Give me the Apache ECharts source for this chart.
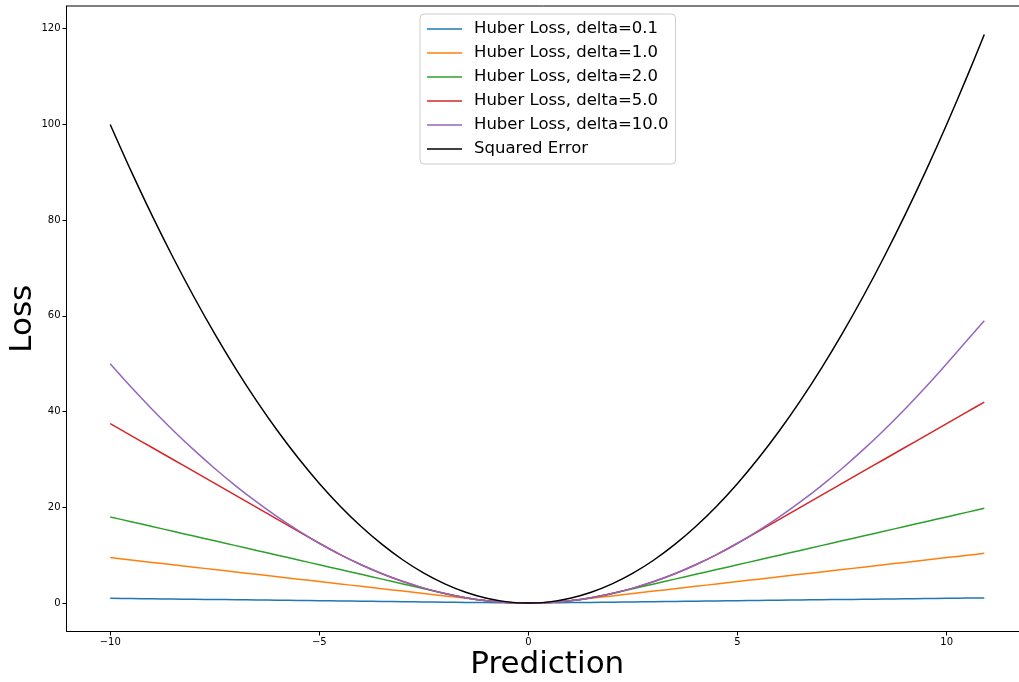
<!DOCTYPE html>
<html>
<head>
<meta charset="utf-8">
<script src="https://cdn.jsdelivr.net/npm/echarts@6/dist/echarts.min.js"></script>
<style>
html,body{margin:0;padding:0;background:#fff;}
#c{width:1019px;height:682px;}
</style>
</head>
<body>
<div id="c"></div>
<script>
const xs = [-10,-9.5,-9,-8.5,-8,-7.5,-7,-6.5,-6,-5.5,-5,-4.5,-4,-3.5,-3,-2.5,-2,-1.5,-1,-0.5,0,0.5,1,1.5,2,2.5,3,3.5,4,4.5,5,5.5,6,6.5,7,7.5,8,8.5,9,9.5,10,10.5,10.9];
const huber01 = [0.995,0.945,0.895,0.845,0.795,0.745,0.695,0.645,0.595,0.545,0.495,0.445,0.395,0.345,0.295,0.245,0.195,0.145,0.095,0.045,0,0.045,0.095,0.145,0.195,0.245,0.295,0.345,0.395,0.445,0.495,0.545,0.595,0.645,0.695,0.745,0.795,0.845,0.895,0.945,0.995,1.045,1.085];
const huber1 = [9.5,9,8.5,8,7.5,7,6.5,6,5.5,5,4.5,4,3.5,3,2.5,2,1.5,1,0.5,0.125,0,0.125,0.5,1,1.5,2,2.5,3,3.5,4,4.5,5,5.5,6,6.5,7,7.5,8,8.5,9,9.5,10,10.4];
const huber2 = [18,17,16,15,14,13,12,11,10,9,8,7,6,5,4,3,2,1.125,0.5,0.125,0,0.125,0.5,1.125,2,3,4,5,6,7,8,9,10,11,12,13,14,15,16,17,18,19,19.8];
const huber5 = [37.5,35,32.5,30,27.5,25,22.5,20,17.5,15,12.5,10.125,8,6.125,4.5,3.125,2,1.125,0.5,0.125,0,0.125,0.5,1.125,2,3.125,4.5,6.125,8,10.125,12.5,15,17.5,20,22.5,25,27.5,30,32.5,35,37.5,40,42];
const huber10 = [50,45.125,40.5,36.125,32,28.125,24.5,21.125,18,15.125,12.5,10.125,8,6.125,4.5,3.125,2,1.125,0.5,0.125,0,0.125,0.5,1.125,2,3.125,4.5,6.125,8,10.125,12.5,15.125,18,21.125,24.5,28.125,32,36.125,40.5,45.125,50,55,59];
const squared = [100,90.25,81,72.25,64,56.25,49,42.25,36,30.25,25,20.25,16,12.25,9,6.25,4,2.25,1,0.25,0,0.25,1,2.25,4,6.25,9,12.25,16,20.25,25,30.25,36,42.25,49,56.25,64,72.25,81,90.25,100,110.25,118.81];
const seriesNames = ['Huber Loss, delta=0.1','Huber Loss, delta=1.0','Huber Loss, delta=2.0','Huber Loss, delta=5.0','Huber Loss, delta=10.0','Squared Error'];
const seriesValues = [huber01, huber1, huber2, huber5, huber10, squared];
const colors = ['#1f77b4','#ff7f0e','#2ca02c','#d62728','#9467bd','#000000'];
const xTicks = [-10,-5,0,5,10];
const yTicks = [0,20,40,60,80,100,120];

const chart = echarts.init(document.getElementById('c'), null, {renderer:'canvas'});
const fmt = v => v < 0 ? '\u2212' + Math.abs(v) : String(v);
const font = 'DejaVu Sans';
chart.setOption({
  animation:false,
  backgroundColor:'#fff',
  color: colors,
  grid:{left:66.5, right:-9, top:6, bottom:50.5, show:true, borderColor:'#000', borderWidth:1, containLabel:false, outerBoundsMode:'none'},
  legend:{
    orient:'vertical', left:420, top:14,
    backgroundColor:'rgba(255,255,255,0.8)', borderColor:'#cccccc', borderWidth:1, borderRadius:4,
    padding:[3,7,3,7],
    icon:'rect', itemWidth:35, itemHeight:1.5, itemGap:0,
    textStyle:{fontFamily:font, fontSize:16.5, color:'#000', lineHeight:24, padding:[0,0,0,7]},
    data: seriesNames
  },
  xAxis:{
    type:'value', min:-11.045, max:11.945,
    name:'Prediction', nameLocation:'middle', nameGap:18, nameMoveOverlap:false,
    nameTextStyle:{fontFamily:font, fontSize:31, color:'#000'},
    axisLine:{show:true, onZero:false, lineStyle:{color:'#000', width:1}},
    axisTick:{show:true, length:4, lineStyle:{color:'#000'}, customValues:xTicks},
    axisLabel:{fontFamily:font, fontSize:10, color:'#000', margin:6, formatter:fmt, customValues:xTicks},
    splitLine:{show:false}
  },
  yAxis:{
    type:'value', min:-5.94, max:124.75,
    name:'Loss', nameLocation:'middle', nameGap:28, nameRotate:90, nameMoveOverlap:false,
    nameTextStyle:{fontFamily:font, fontSize:31, color:'#000'},
    axisLine:{show:true, onZero:false, lineStyle:{color:'#000', width:1}},
    axisTick:{show:true, length:4, lineStyle:{color:'#000'}, customValues:yTicks},
    axisLabel:{fontFamily:font, fontSize:10, color:'#000', margin:6, formatter:fmt, customValues:yTicks},
    splitLine:{show:false}
  },
  series: seriesNames.map((n,i)=>({
    name:n, type:'line', symbol:'none', showSymbol:false,
    smooth:0.3,
    data: xs.map((x,j)=>[x, seriesValues[i][j]]),
    lineStyle:{width:1.5, color:colors[i]},
    itemStyle:{color:colors[i]},
    z: 2 + i
  }))
});
</script>
</body>
</html>
